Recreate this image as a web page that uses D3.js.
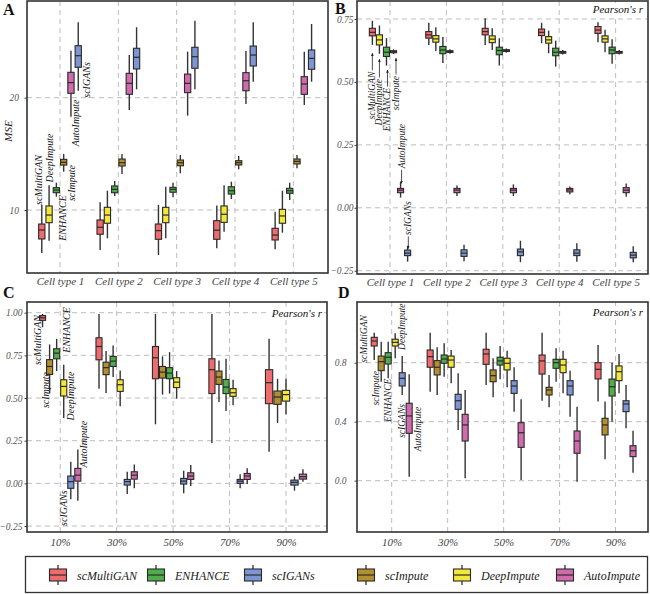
<!DOCTYPE html>
<html><head><meta charset="utf-8">
<script src="https://cdn.jsdelivr.net/npm/d3@7"></script>
<style>body{margin:0;background:#fff}svg{display:block}</style>
</head><body>
<svg id="chart" width="650" height="594"></svg>
<script>
// ---------------- DATA ----------------
const methods = ["scMultiGAN", "ENHANCE", "scIGANs", "scImpute", "DeepImpute", "AutoImpute"];
const methodColors = ["#EE6B6E", "#4FAE4B", "#7E95D3", "#B2902F", "#F3E73B", "#D16BAE"];
const cellTypes = ["Cell type 1", "Cell type 2", "Cell type 3", "Cell type 4", "Cell type 5"];
const missingRates = ["10%", "30%", "50%", "70%", "90%"];
const orderAB = ["scMultiGAN", "DeepImpute", "ENHANCE", "scImpute", "AutoImpute", "scIGANs"];
const orderCD = ["scMultiGAN", "scImpute", "ENHANCE", "DeepImpute", "scIGANs", "AutoImpute"];
const ticksA = [10, 20];
const ticksB = [-0.25, 0, 0.25, 0.5, 0.75];
const ticksC = [-0.25, 0, 0.25, 0.5, 0.75, 1.0];
const ticksD = [0, 0.4, 0.8];

// each row: [lower whisker, Q1, median, Q3, upper whisker]
// Panel A – MSE per cell type
const A_scMultiGAN = [[6.17,7.42,8.22,8.75,10.45],[6.44,7.84,8.46,9.11,10.69],[5.99,7.39,8.16,8.75,10.45],[6.6,7.39,8.2,9.05,10.4],[6.5,7.33,7.77,8.37,9.85]];
const A_DeepImpute = [[7.27,8.87,9.55,10.36,12.2],[7.48,8.82,9.55,10.24,11.72],[7.48,8.87,9.55,10.24,12.07],[8.07,8.9,9.62,10.36,12.2],[7.98,8.82,9.47,10.06,11.72]];
const A_ENHANCE = [[11.18,11.54,11.78,11.99,12.43],[11.25,11.54,11.84,12.14,12.58],[11.13,11.58,11.84,12.02,12.43],[10.98,11.42,11.72,12.07,12.52],[10.89,11.49,11.72,11.93,12.43]];
const A_scImpute = [[13.41,14.0,14.25,14.51,14.99],[13.21,13.92,14.21,14.54,14.99],[13.27,13.94,14.21,14.45,14.9],[13.62,14.01,14.21,14.39,14.81],[13.71,14.1,14.33,14.54,14.9]];
const A_AutoImpute = [[18.31,20.39,21.34,22.26,24.19],[18.9,20.3,21.28,22.17,23.8],[18.4,20.45,21.28,22.1,24.1],[19.44,20.62,21.51,22.23,24.16],[19.35,20.3,21.22,21.87,24.1]];
const A_scIGANs = [[20.62,22.71,23.74,24.63,26.71],[20.75,22.56,23.6,24.4,26.27],[20.75,22.62,23.65,24.49,26.86],[21.42,22.82,23.8,24.6,26.71],[21.42,22.53,23.5,24.25,26.56]];

// Panel B – Pearson's r per cell type
const B_scMultiGAN = [[0.647,0.683,0.697,0.713,0.743],[0.647,0.674,0.687,0.70,0.735],[0.647,0.687,0.70,0.713,0.753],[0.654,0.684,0.697,0.71,0.735],[0.658,0.693,0.706,0.72,0.737]];
const B_DeepImpute = [[0.612,0.647,0.667,0.687,0.724],[0.623,0.658,0.671,0.684,0.717],[0.627,0.656,0.67,0.683,0.713],[0.614,0.654,0.667,0.68,0.704],[0.618,0.658,0.671,0.683,0.707]];
const B_ENHANCE = [[0.565,0.601,0.618,0.638,0.674],[0.575,0.612,0.627,0.641,0.678],[0.565,0.608,0.625,0.638,0.674],[0.561,0.604,0.618,0.634,0.664],[0.572,0.612,0.627,0.638,0.67]];
const B_scImpute = [[0.611,0.616,0.62,0.624,0.629],[0.612,0.617,0.621,0.624,0.63],[0.616,0.621,0.625,0.628,0.633],[0.609,0.614,0.618,0.621,0.627],[0.609,0.614,0.618,0.621,0.627]];
const B_AutoImpute = [[0.041,0.06,0.07,0.077,0.103],[0.047,0.06,0.07,0.077,0.089],[0.047,0.06,0.07,0.077,0.093],[0.054,0.063,0.071,0.077,0.085],[0.044,0.06,0.07,0.08,0.097]];
const B_scIGANs = [[-0.214,-0.19,-0.18,-0.168,-0.151],[-0.212,-0.193,-0.18,-0.167,-0.147],[-0.216,-0.19,-0.175,-0.164,-0.131],[-0.214,-0.19,-0.18,-0.167,-0.141],[-0.216,-0.199,-0.188,-0.177,-0.153]];

// Panel C – Pearson's r per missing rate (ENHANCE absent at 90%)
const C_scMultiGAN = [[0.915,0.955,0.97,0.983,0.993],[0.555,0.724,0.802,0.853,0.993],[0.346,0.613,0.736,0.802,0.993],[0.237,0.526,0.666,0.73,0.993],[0.185,0.467,0.59,0.666,0.847]];
const C_scImpute = [[0.526,0.638,0.685,0.725,0.814],[0.529,0.637,0.678,0.71,0.775],[0.52,0.617,0.652,0.685,0.744],[0.477,0.58,0.623,0.658,0.72],[0.354,0.463,0.506,0.541,0.613]];
const C_ENHANCE = [[0.658,0.73,0.763,0.789,0.847],[0.623,0.685,0.716,0.744,0.808],[0.526,0.613,0.646,0.678,0.769],[0.424,0.526,0.564,0.609,0.73],null];
const C_DeepImpute = [[0.383,0.512,0.568,0.607,0.695],[0.452,0.539,0.578,0.607,0.662],[0.496,0.561,0.593,0.619,0.658],[0.457,0.51,0.531,0.555,0.607],[0.405,0.482,0.52,0.545,0.613]];
const C_scIGANs = [[-0.093,-0.029,0.01,0.043,0.126],[-0.062,-0.01,0.01,0.023,0.068],[-0.058,-0.004,0.013,0.029,0.074],[-0.029,0,0.013,0.023,0.053],[-0.043,-0.01,0.006,0.019,0.039]];
const C_AutoImpute = [[-0.102,0.013,0.048,0.088,0.199],[-0.029,0.025,0.048,0.068,0.111],[-0.016,0.023,0.043,0.062,0.107],[-0.004,0.023,0.043,0.058,0.088],[0.009,0.025,0.039,0.054,0.082]];

// Panel D – Pearson's r per missing rate
const D_scMultiGAN = [[0.818,0.913,0.947,0.972,1.003],[0.603,0.769,0.841,0.886,1.003],[0.649,0.789,0.859,0.891,1.003],[0.542,0.723,0.812,0.852,1.003],[0.536,0.69,0.755,0.8,0.92]];
const D_scImpute = [[0.671,0.746,0.807,0.845,0.942],[0.581,0.717,0.769,0.814,0.904],[0.565,0.671,0.712,0.751,0.83],[0.498,0.581,0.615,0.633,0.717],[0.145,0.31,0.378,0.423,0.536]];
const D_ENHANCE = [[0.694,0.791,0.837,0.868,0.942],[0.705,0.796,0.825,0.852,0.932],[0.687,0.784,0.812,0.837,0.913],[0.671,0.762,0.8,0.823,0.898],[0.4,0.574,0.637,0.689,0.8]];
const D_DeepImpute = [[0.83,0.913,0.938,0.959,0.999],[0.66,0.769,0.818,0.845,0.886],[0.633,0.751,0.796,0.83,0.881],[0.592,0.732,0.784,0.823,0.881],[0.592,0.678,0.739,0.778,0.859]];
const D_scIGANs = [[0.581,0.642,0.694,0.732,0.845],[0.344,0.484,0.542,0.586,0.728],[0.468,0.592,0.642,0.678,0.769],[0.434,0.581,0.642,0.678,0.746],[0.355,0.468,0.52,0.542,0.649]];
const D_AutoImpute = [[0.027,0.321,0.439,0.525,0.721],[0.016,0.269,0.378,0.45,0.615],[0.005,0.226,0.325,0.393,0.552],[-0.007,0.186,0.269,0.337,0.502],[0.054,0.163,0.203,0.237,0.339]];

// ---------------- DRAWING ----------------
const FONT = "'Liberation Serif','Times New Roman',serif";
const colorOf = d3.scaleOrdinal().domain(methods).range(methodColors);
const svg = d3.select("#chart");
svg.append("rect").attr("width", 650).attr("height", 594).attr("fill", "#fff");

const defs = svg.append("defs");
defs.append("marker").attr("id", "arr").attr("viewBox", "0 0 6 6").attr("refX", 5).attr("refY", 3)
  .attr("markerWidth", 4).attr("markerHeight", 4).attr("orient", "auto")
  .append("path").attr("d", "M0,0.5 L6,3 L0,5.5 z").attr("fill", "#222");

function drawPanel(p) {
  const g = svg.append("g");
  const x = d3.scaleLinear().domain(p.xDomain).range([p.left, p.right]);
  const y = d3.scaleLinear().domain(p.yDomain).range([p.bottom, p.top]);
  const step = x(1) - x(0);
  const bandFor = i => {
    const present = p.order.filter(m => p.series[m][i]);
    return d3.scaleBand().domain(present)
      .range([x(i) - 0.375 * step, x(i) + 0.375 * step])
      .paddingInner(0.14).paddingOuter(0.07);
  };

  // gridlines
  g.selectAll(".hg").data(p.yTicks).join("line")
    .attr("x1", p.left).attr("x2", p.right)
    .attr("y1", d => y(d)).attr("y2", d => y(d))
    .attr("stroke", "#bdbdbd").attr("stroke-width", 1).attr("stroke-dasharray", "5,4");
  g.selectAll(".vg").data(p.cats).join("line")
    .attr("x1", (d, i) => x(i)).attr("x2", (d, i) => x(i))
    .attr("y1", p.top).attr("y2", p.bottom)
    .attr("stroke", "#bdbdbd").attr("stroke-width", 1).attr("stroke-dasharray", "5,4");

  // boxes
  p.cats.forEach((c, i) => {
    const band = bandFor(i);
    band.domain().forEach(m => {
      const [lo, q1, md, q3, hi] = p.series[m][i];
      const w = band.bandwidth();
      const cx = band(m) + w / 2;
      const bg = g.append("g");
      bg.append("line").attr("x1", cx).attr("x2", cx).attr("y1", y(hi)).attr("y2", y(lo))
        .attr("stroke", "#333").attr("stroke-width", 1.4);
      bg.append("rect").attr("x", cx - w / 2).attr("width", w)
        .attr("y", y(q3)).attr("height", Math.max(1.2, y(q1) - y(q3)))
        .attr("fill", colorOf(m)).attr("stroke", "#2a2a2a").attr("stroke-width", 1.1);
      bg.append("line").attr("x1", cx - w / 2).attr("x2", cx + w / 2)
        .attr("y1", y(md)).attr("y2", y(md)).attr("stroke", "#2a2a2a").attr("stroke-width", 1.2);
    });
  });

  // annotations
  const band0 = bandFor(0);
  p.annots.forEach(a => {
    const [m, dx, v, anchor, tip] = a;
    const ax = band0(m) + band0.bandwidth() / 2 + dx;
    g.append("text").attr("transform", `translate(${ax},${y(v)}) rotate(-90)`)
      .attr("text-anchor", anchor || "middle").attr("dominant-baseline", "central")
      .attr("font-family", FONT).attr("font-style", "italic").attr("font-size", p.annotSize)
      .attr("fill", "#222").text(m);
    if (tip !== undefined) {
      const y0 = y(v), y1 = y(tip);
      const dir = y1 < y0 ? -1 : 1;
      g.append("line").attr("x1", ax).attr("x2", ax).attr("y1", y0 + dir * 1.5).attr("y2", y1)
        .attr("stroke", "#222").attr("stroke-width", 0.8).attr("marker-end", "url(#arr)");
    }
  });

  // Pearson's r label
  if (p.corner) {
    const t = g.append("text").attr("x", p.right - 5).attr("y", p.top + p.cornerDy)
      .attr("text-anchor", "end").attr("font-family", FONT).attr("font-style", "italic")
      .attr("font-size", 11).attr("fill", "#111").text(p.corner);
    const bb = t.node().getBBox();
    g.insert("rect", "text").attr("x", bb.x - 2).attr("y", bb.y).attr("width", bb.width + 3)
      .attr("height", bb.height).attr("fill", "#fff");
    t.raise();
  }

  // axes
  const ya = g.append("g").attr("transform", `translate(${p.left},0)`)
    .call(d3.axisLeft(y).tickValues(p.yTicks).tickFormat(p.fmt).tickSize(2.5).tickPadding(p.yPad));
  ya.select(".domain").remove();
  ya.selectAll("line").attr("stroke", "#444");
  ya.selectAll("text").attr("font-family", FONT).attr("font-style", "italic")
    .attr("font-size", 9.5).attr("fill", "#555");
  const xa = g.append("g").attr("transform", `translate(0,${p.bottom})`)
    .call(d3.axisBottom(x).tickValues(d3.range(p.cats.length)).tickFormat(i => p.cats[i]).tickSize(0).tickPadding(p.xPad));
  xa.select(".domain").remove();
  xa.selectAll("text").attr("font-family", FONT).attr("font-style", "italic")
    .attr("font-size", 11).attr("fill", "#444");

  // border
  g.append("rect").attr("x", p.left).attr("y", p.top).attr("width", p.right - p.left)
    .attr("height", p.bottom - p.top).attr("fill", "none").attr("stroke", "#333").attr("stroke-width", 1.6);

  // panel letter
  g.append("text").attr("x", p.letterX).attr("y", p.letterY).attr("font-family", FONT)
    .attr("font-weight", "bold").attr("font-size", 16).attr("fill", "#111").text(p.letter);

  if (p.yTitle) {
    g.append("text").attr("transform", `translate(${p.left - 15},${(p.top + p.bottom) / 2 - 6}) rotate(-90)`)
      .attr("text-anchor", "middle").attr("font-family", FONT).attr("font-style", "italic")
      .attr("font-size", 11).attr("fill", "#222").text(p.yTitle);
  }
}

const f2 = d3.format(".2f"), f1 = d3.format(".1f");

drawPanel({
  left: 27, right: 328, top: 1, bottom: 273, xDomain: [-0.566, 4.594], yDomain: [4.39, 28.61],
  cats: cellTypes, order: orderAB, yTicks: ticksA, fmt: d3.format("d"), yPad: 5.5, xPad: 4,
  series: { scMultiGAN: A_scMultiGAN, DeepImpute: A_DeepImpute, ENHANCE: A_ENHANCE, scImpute: A_scImpute, AutoImpute: A_AutoImpute, scIGANs: A_scIGANs },
  annotSize: 10,
  annots: [["scMultiGAN", -3, 12.67], ["DeepImpute", 0, 14.63], ["ENHANCE", 5.7, 9.29],
           ["scImpute", 7.4, 12.4], ["AutoImpute", 5, 17.75], ["scIGANs", 8.7, 21.58]],
  letter: "A", letterX: 3, letterY: 15, yTitle: "MSE"
});

drawPanel({
  left: 357, right: 648, top: 1, bottom: 274, xDomain: [-0.585, 4.574], yDomain: [-0.263, 0.8215],
  cats: cellTypes, order: orderAB, yTicks: ticksB, fmt: f2, yPad: 1, xPad: 4,
  series: { scMultiGAN: B_scMultiGAN, DeepImpute: B_DeepImpute, ENHANCE: B_ENHANCE, scImpute: B_scImpute, AutoImpute: B_AutoImpute, scIGANs: B_scIGANs },
  annotSize: 9.5,
  annots: [["scMultiGAN", 0, 0.5406, "end", 0.6137], ["DeepImpute", 0, 0.5116, "end", 0.590],
           ["ENHANCE", 1, 0.4759, "end", 0.5474], ["scImpute", 2.5, 0.5235, "end", 0.5939],
           ["AutoImpute", 1, 0.1568, "start", 0.0972], ["scIGANs", 0.7, -0.108, "start", -0.161]],
  corner: "Pearson's r", cornerDy: 12,
  letter: "B", letterX: 335, letterY: 14
});

drawPanel({
  left: 27, right: 327, top: 302, bottom: 532, xDomain: [-0.588, 4.726], yDomain: [-0.285, 1.0627],
  cats: missingRates, order: orderCD, yTicks: ticksC, fmt: f2, yPad: 2, xPad: 6,
  series: { scMultiGAN: C_scMultiGAN, scImpute: C_scImpute, ENHANCE: C_ENHANCE, DeepImpute: C_DeepImpute, scIGANs: C_scIGANs, AutoImpute: C_AutoImpute },
  annotSize: 10,
  annots: [["scMultiGAN", -5, 0.84], ["ENHANCE", 10, 0.899], ["scImpute", -4.6, 0.547],
           ["DeepImpute", 6.3, 0.512], ["AutoImpute", 5.5, 0.23], ["scIGANs", -7.5, -0.145]],
  corner: "Pearson's r", cornerDy: 15,
  letter: "C", letterX: 3, letterY: 298
});

drawPanel({
  left: 357, right: 648, top: 302, bottom: 532, xDomain: [-0.62, 4.58], yDomain: [-0.348, 1.2115],
  cats: missingRates, order: orderCD, yTicks: ticksD, fmt: f1, yPad: 8, xPad: 6,
  series: { scMultiGAN: D_scMultiGAN, scImpute: D_scImpute, ENHANCE: D_ENHANCE, DeepImpute: D_DeepImpute, scIGANs: D_scIGANs, AutoImpute: D_AutoImpute },
  annotSize: 9.5,
  annots: [["scMultiGAN", -10.2, 0.961], ["DeepImpute", 6.5, 1.044], ["scImpute", -5.2, 0.627],
           ["ENHANCE", 0, 0.545], ["scIGANs", -0.5, 0.405], ["AutoImpute", 9.1, 0.35]],
  corner: "Pearson's r", cornerDy: 14,
  letter: "D", letterX: 338, letterY: 298
});

// ---------------- LEGEND ----------------
const legendKeyX = [58, 156, 253, 366, 462, 565];
const lg = svg.append("g");
lg.append("rect").attr("x", 25.5).attr("y", 556.5).attr("width", 622).attr("height", 36)
  .attr("fill", "#fff").attr("stroke", "#333").attr("stroke-width", 1.3);
methods.forEach((m, i) => {
  const kx = legendKeyX[i], ky = 575;
  lg.append("line").attr("x1", kx).attr("x2", kx).attr("y1", ky - 10).attr("y2", ky + 10)
    .attr("stroke", "#333").attr("stroke-width", 1.3);
  lg.append("rect").attr("x", kx - 8.5).attr("y", ky - 6).attr("width", 17).attr("height", 12)
    .attr("fill", colorOf(m)).attr("stroke", "#2a2a2a").attr("stroke-width", 1.1);
  lg.append("line").attr("x1", kx - 8.5).attr("x2", kx + 8.5).attr("y1", ky).attr("y2", ky)
    .attr("stroke", "#2a2a2a").attr("stroke-width", 1.2);
  lg.append("text").attr("x", kx + 19).attr("y", ky + 4.5).attr("font-family", FONT)
    .attr("font-style", "italic").attr("font-size", 12).attr("fill", "#222").text(m);
});
</script>
</body></html>
